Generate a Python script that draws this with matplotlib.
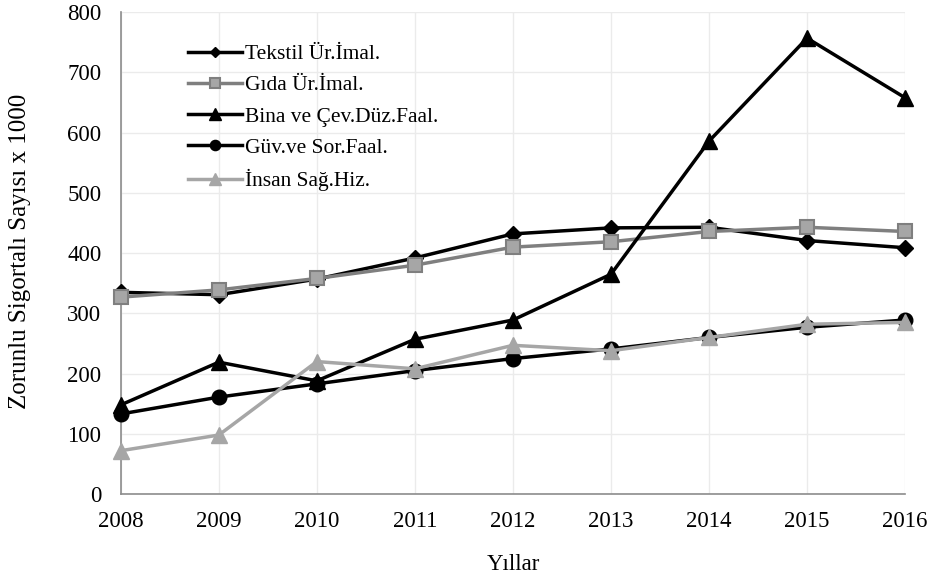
import matplotlib
matplotlib.use("Agg")
import matplotlib.pyplot as plt

plt.rcParams['font.family'] = ['Liberation Serif', 'DejaVu Serif']

years = [2008, 2009, 2010, 2011, 2012, 2013, 2014, 2015, 2016]
tekstil = [335, 331, 357, 392, 432, 442, 443, 421, 409]
gida = [327, 339, 358, 380, 410, 419, 436, 443, 436]
bina = [148, 219, 188, 257, 289, 365, 586, 757, 658]
guv = [133, 161, 183, 205, 225, 241, 260, 277, 289]
insan = [72, 98, 220, 208, 247, 238, 260, 282, 285]

fig = plt.figure(figsize=(9.36, 5.84), dpi=100)
ax = fig.add_axes([0.129, 0.154, 0.838, 0.825])

kw = dict(lw=2.5, clip_on=False, zorder=3)
ax.plot(years, tekstil, color='black', marker='D', ms=8, label='Tekstil Ür.İmal.', **kw)
ax.plot(years, gida, color='#7f7f7f', marker='s', ms=10.5,
        mfc='#a6a6a6', mec='#7f7f7f', mew=1.5, label='Gıda Ür.İmal.', **kw)
ax.plot(years, bina, color='black', marker='^', ms=12, label='Bina ve Çev.Düz.Faal.', **kw)
ax.plot(years, guv, color='black', marker='o', ms=10.5, label='Güv.ve Sor.Faal.', **kw)
ax.plot(years, insan, color='#a6a6a6', marker='^', ms=12, label='İnsan Sağ.Hiz.', **kw)

ax.set_xlim(2008, 2016)
ax.set_ylim(0, 800)
ax.set_yticks(range(0, 801, 100))
ax.set_xticks(years)
ax.grid(True, color='#ebebeb', lw=1)
ax.set_axisbelow(True)
for s in ['top', 'right']:
    ax.spines[s].set_visible(False)
for s in ['left', 'bottom']:
    ax.spines[s].set_color('#8c8c8c')
    ax.spines[s].set_linewidth(1.2)
ax.tick_params(length=0, labelsize=16.5)
ax.tick_params(axis='x', pad=12)
ax.tick_params(axis='y', pad=14)

fig.text(513 / 936, 1 - 565 / 584, 'Yıllar', fontsize=16.5, ha='center', va='center')
fig.text(20 / 936, 1 - 251 / 584, 'Zorunlu Sigortalı Sayısı x 1000', fontsize=18,
         rotation=90, ha='center', va='center')

ax.legend(loc='upper left', bbox_to_anchor=(0.075, 0.952), frameon=False, fontsize=15.5,
          handlelength=2.5, labelspacing=0.52, handletextpad=0.15, markerscale=0.7,
          borderaxespad=0)

fig.savefig('out.png', dpi=100)
